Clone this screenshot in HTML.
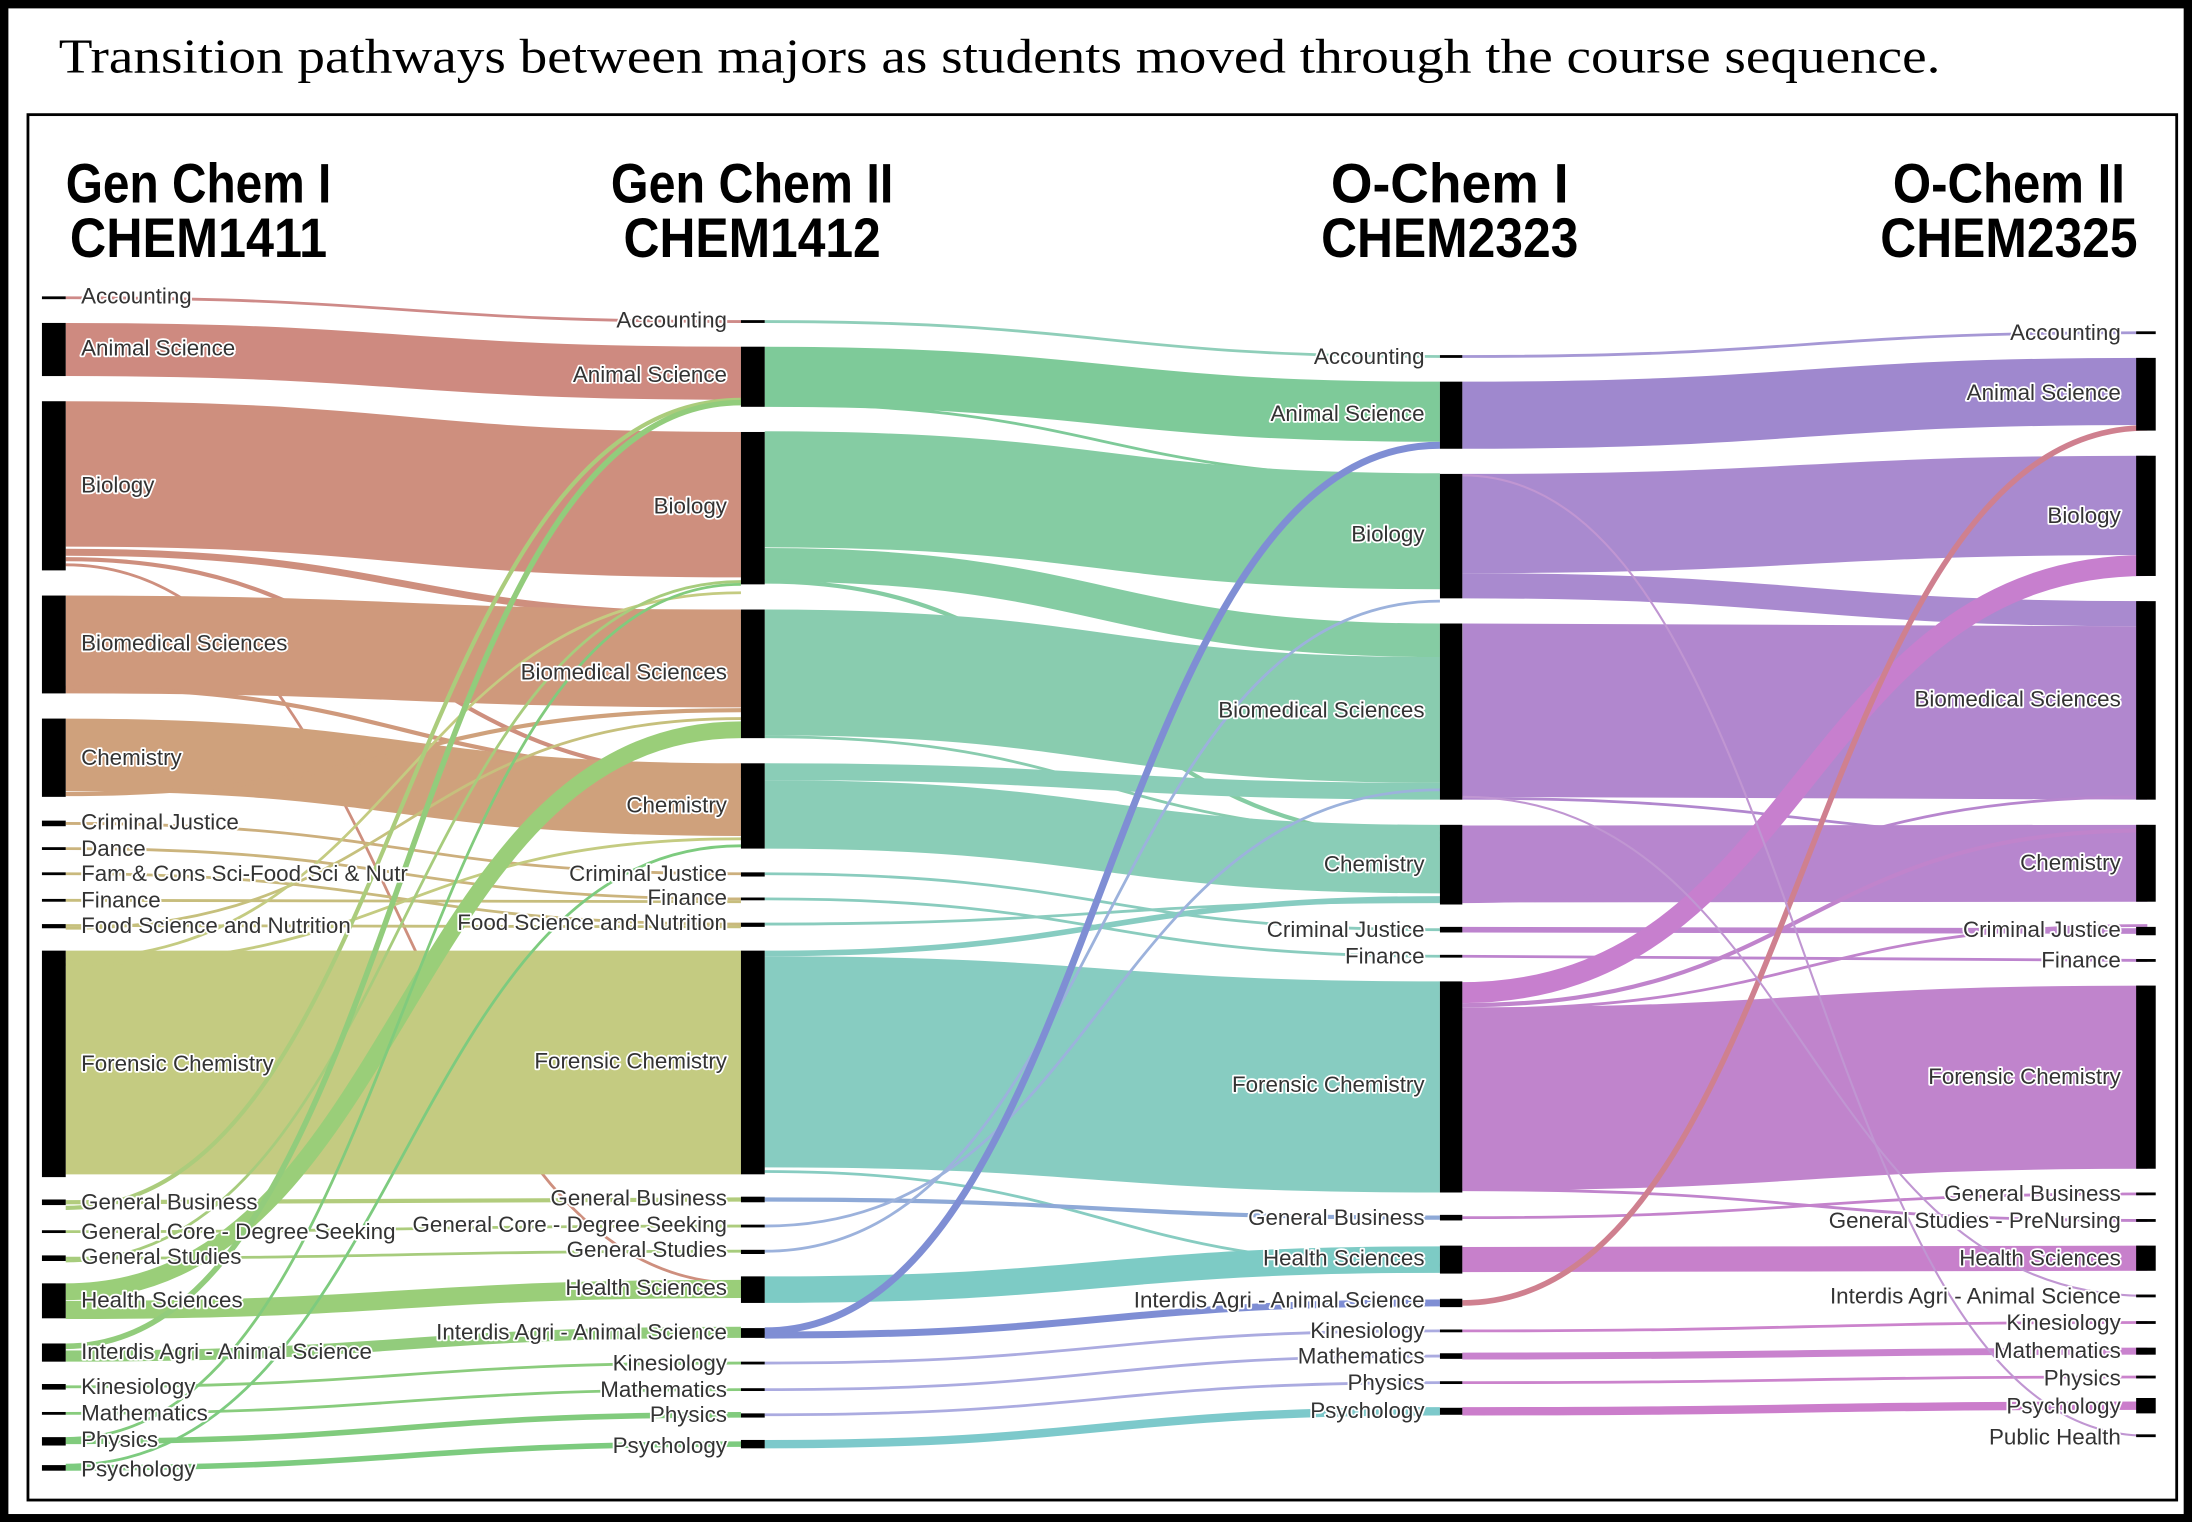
<!DOCTYPE html>
<html><head><meta charset="utf-8"><style>
html,body{margin:0;padding:0;background:#fff}
svg{display:block}
.l{font-family:"Liberation Sans",Arial,sans-serif;font-size:16px;fill:#333;stroke:#fff;stroke-width:2.5px;paint-order:stroke;stroke-linejoin:round;dominant-baseline:middle}
.r{text-anchor:end}
.h{font-family:"Liberation Sans",Arial,sans-serif;font-weight:bold;font-size:40px;fill:#000;text-anchor:middle}
path{fill:none}
</style></head><body>
<svg width="2192" height="1522" viewBox="0 0 2192 1522" xmlns="http://www.w3.org/2000/svg">
<g transform="scale(1.398)">
<rect x="3" y="3" width="1562" height="1083" fill="#fff" stroke="#000" stroke-width="6"/>
<text x="42" y="52" font-family="Liberation Serif, serif" font-size="35" textLength="1346" lengthAdjust="spacingAndGlyphs">Transition pathways between majors as students moved through the course sequence.</text>
<rect x="20" y="82" width="1537" height="991" fill="none" stroke="#000" stroke-width="2"/>

<text class="h" x="142" y="145" textLength="190" lengthAdjust="spacingAndGlyphs">Gen Chem I</text>
<text class="h" x="142" y="184" textLength="184" lengthAdjust="spacingAndGlyphs">CHEM1411</text>
<text class="h" x="538" y="145" textLength="202" lengthAdjust="spacingAndGlyphs">Gen Chem II</text>
<text class="h" x="538" y="184" textLength="184" lengthAdjust="spacingAndGlyphs">CHEM1412</text>
<text class="h" x="1037" y="145" textLength="170" lengthAdjust="spacingAndGlyphs">O-Chem I</text>
<text class="h" x="1037" y="184" textLength="184" lengthAdjust="spacingAndGlyphs">CHEM2323</text>
<text class="h" x="1437" y="145" textLength="166" lengthAdjust="spacingAndGlyphs">O-Chem II</text>
<text class="h" x="1437" y="184" textLength="184" lengthAdjust="spacingAndGlyphs">CHEM2325</text>

<g opacity="0.88">
<path d="M47,213 C288,213 288,230 530,230" stroke="#c87a78" stroke-width="2"/>
<path d="M47,250 C288,250 288,267 530,267" stroke="#c87a6f" stroke-width="38"/>
<path d="M47,339 C288,339 288,361 530,361" stroke="#c8806d" stroke-width="104"/>
<path d="M47,395 C288,395 288,440 530,440" stroke="#c8806d" stroke-width="5"/>
<path d="M47,400 C288,400 288,555 530,555" stroke="#c8806d" stroke-width="3"/>
<path d="M47,404 C288,404 288,918 530,918" stroke="#c8806d" stroke-width="2"/>
<path d="M47,461 C288,461 288,471 530,471" stroke="#c98b6b" stroke-width="70"/>
<path d="M47,492 C288,492 288,552 530,552" stroke="#c98b6b" stroke-width="3"/>
<path d="M47,540 C288,540 288,572 530,572" stroke="#c9956a" stroke-width="52"/>
<path d="M47,568 C288,568 288,508 530,508" stroke="#c9956a" stroke-width="3"/>
<path d="M47,589 C288,589 288,625 530,625" stroke="#c6a46c" stroke-width="2"/>
<path d="M47,607 C288,607 288,643 530,643" stroke="#c4aa6c" stroke-width="2"/>
<path d="M47,625 C288,625 288,661 530,661" stroke="#c2b06c" stroke-width="2"/>
<path d="M47,644 C288,644 288,645 530,645" stroke="#c0b46c" stroke-width="2"/>
<path d="M47,662 C288,662 288,663 530,663" stroke="#bfb86c" stroke-width="2"/>
<path d="M47,664 C288,664 288,514 530,514" stroke="#bfb86c" stroke-width="2"/>
<path d="M47,760 C288,760 288,760 530,760" stroke="#bdc470" stroke-width="160"/>
<path d="M47,686 C288,686 288,424 530,424" stroke="#bdc470" stroke-width="2"/>
<path d="M47,690 C288,690 288,600 530,600" stroke="#bdc470" stroke-width="2"/>
<path d="M47,860 C288,860 288,858 530,858" stroke="#a8c66c" stroke-width="3"/>
<path d="M47,864 C288,864 288,286 530,286" stroke="#a0c66a" stroke-width="3"/>
<path d="M47,881 C288,881 288,877 530,877" stroke="#a2c66c" stroke-width="2"/>
<path d="M47,900 C288,900 288,895 530,895" stroke="#9cc66c" stroke-width="2"/>
<path d="M47,902 C288,902 288,416 530,416" stroke="#9cc66c" stroke-width="2"/>
<path d="M47,924 C288,924 288,522 530,522" stroke="#8dc867" stroke-width="12"/>
<path d="M47,937 C288,937 288,922 530,922" stroke="#8dc867" stroke-width="13"/>
<path d="M47,963 C288,963 288,288 530,288" stroke="#84c66a" stroke-width="4"/>
<path d="M47,970 C288,970 288,953 530,953" stroke="#84c66a" stroke-width="8"/>
<path d="M47,992 C288,992 288,975 530,975" stroke="#7cc66c" stroke-width="2"/>
<path d="M47,1011 C288,1011 288,994 530,994" stroke="#78c66c" stroke-width="2"/>
<path d="M47,1031 C288,1031 288,1012 530,1012" stroke="#70c46c" stroke-width="4"/>
<path d="M47,1029 C288,1029 288,418 530,418" stroke="#70c46c" stroke-width="2"/>
<path d="M47,1050 C288,1050 288,1033 530,1033" stroke="#6cc46e" stroke-width="4"/>
<path d="M47,1048 C288,1048 288,605 530,605" stroke="#6cc46e" stroke-width="2"/>
<path d="M547,230 C788,230 788,255 1030,255" stroke="#80c8b0" stroke-width="2"/>
<path d="M547,269.5 C788,269.5 788,294.5 1030,294.5" stroke="#6dc38c" stroke-width="43"/>
<path d="M547,289 C788,289 788,342 1030,342" stroke="#6dc38c" stroke-width="2"/>
<path d="M547,350 C788,350 788,380 1030,380" stroke="#75c697" stroke-width="83"/>
<path d="M547,404 C788,404 788,458 1030,458" stroke="#75c697" stroke-width="24"/>
<path d="M547,416 C788,416 788,600 1030,600" stroke="#75c697" stroke-width="3"/>
<path d="M547,481 C788,481 788,515 1030,515" stroke="#79c6a5" stroke-width="90"/>
<path d="M547,527 C788,527 788,596 1030,596" stroke="#79c6a5" stroke-width="2"/>
<path d="M547,552 C788,552 788,566 1030,566" stroke="#7ac7ae" stroke-width="12"/>
<path d="M547,582.5 C788,582.5 788,614.5 1030,614.5" stroke="#7ac7ae" stroke-width="49"/>
<path d="M547,625 C788,625 788,665 1030,665" stroke="#7ac6b6" stroke-width="2"/>
<path d="M547,643 C788,643 788,684 1030,684" stroke="#7ac6b6" stroke-width="2"/>
<path d="M547,661 C788,661 788,645 1030,645" stroke="#7ac6b6" stroke-width="2"/>
<path d="M547,682 C788,682 788,643 1030,643" stroke="#77c5b9" stroke-width="4"/>
<path d="M547,759.5 C788,759.5 788,777.5 1030,777.5" stroke="#77c5b9" stroke-width="151"/>
<path d="M547,838 C788,838 788,905 1030,905" stroke="#77c5b9" stroke-width="2"/>
<path d="M547,858 C788,858 788,871 1030,871" stroke="#7f9ed2" stroke-width="3"/>
<path d="M547,877 C788,877 788,565 1030,565" stroke="#8fa8d8" stroke-width="2"/>
<path d="M547,895 C788,895 788,430 1030,430" stroke="#8fa8d8" stroke-width="2"/>
<path d="M547,922.5 C788,922.5 788,901 1030,901" stroke="#6cc4be" stroke-width="19"/>
<path d="M547,952 C788,952 788,318.5 1030,318.5" stroke="#6e7fcf" stroke-width="5"/>
<path d="M547,955 C788,955 788,932 1030,932" stroke="#6e7fcf" stroke-width="5"/>
<path d="M547,975 C788,975 788,952 1030,952" stroke="#a0a0dc" stroke-width="2"/>
<path d="M547,994 C788,994 788,970 1030,970" stroke="#a0a0dc" stroke-width="2"/>
<path d="M547,1012 C788,1012 788,989 1030,989" stroke="#a0a0dc" stroke-width="2"/>
<path d="M547,1033 C788,1033 788,1009.5 1030,1009.5" stroke="#6cc2c4" stroke-width="6"/>
<path d="M1046,255 C1291,255 1291,238 1528,238" stroke="#9a8ad0" stroke-width="2"/>
<path d="M1046,297 C1291,297 1291,280 1536,280" stroke="#9278c8" stroke-width="48"/>
<path d="M1046,374.5 C1291,374.5 1291,361.5 1536,361.5" stroke="#9e7ac9" stroke-width="71"/>
<path d="M1046,419 C1291,419 1291,439 1536,439" stroke="#9e7ac9" stroke-width="18"/>
<path d="M1046,508 C1291,508 1291,510 1536,510" stroke="#a777c8" stroke-width="124"/>
<path d="M1046,571 C1291,571 1291,600 1536,600" stroke="#a777c8" stroke-width="2"/>
<path d="M1046,618 C1291,618 1291,617.5 1536,617.5" stroke="#ae76c8" stroke-width="55"/>
<path d="M1046,645 C1291,645 1291,570 1536,570" stroke="#ae76c8" stroke-width="2"/>
<path d="M1046,665 C1291,665 1291,666 1536,666" stroke="#b474c8" stroke-width="4"/>
<path d="M1046,684 C1291,684 1291,687 1536,687" stroke="#b474c8" stroke-width="2"/>
<path d="M1046,710 C1291,710 1291,404.5 1536,404.5" stroke="#c06ec8" stroke-width="15"/>
<path d="M1046,719 C1291,719 1291,594 1536,594" stroke="#b874c6" stroke-width="3"/>
<path d="M1046,722 C1291,722 1291,662 1536,662" stroke="#b874c6" stroke-width="2"/>
<path d="M1046,786 C1291,786 1291,770.5 1536,770.5" stroke="#b874c6" stroke-width="131"/>
<path d="M1046,851 C1291,851 1291,873 1536,873" stroke="#b874c6" stroke-width="2"/>
<path d="M1046,871 C1291,871 1291,854 1536,854" stroke="#bc72c6" stroke-width="2"/>
<path d="M1046,901 C1291,901 1291,900 1536,900" stroke="#c06fc4" stroke-width="18"/>
<path d="M1046,932 C1291,932 1291,306 1536,306" stroke="#c96f80" stroke-width="4"/>
<path d="M1046,952 C1291,952 1291,946 1536,946" stroke="#c472c6" stroke-width="2"/>
<path d="M1046,970 C1291,970 1291,966.5 1536,966.5" stroke="#c272c8" stroke-width="5"/>
<path d="M1046,989 C1291,989 1291,985 1536,985" stroke="#c472c6" stroke-width="2"/>
<path d="M1046,1009.5 C1291,1009.5 1291,1005.5 1536,1005.5" stroke="#c46cc4" stroke-width="6"/>
<path d="M1046,340 C1291,340 1291,1027 1536,1027" stroke="#b888cc" stroke-width="1.5"/>
<path d="M1046,570 C1291,570 1291,927 1536,927" stroke="#b888cc" stroke-width="1.5"/>
</g>

<g fill="#000">
<rect x="30" y="212" width="17" height="2"/><rect x="30" y="231" width="17" height="38"/><rect x="30" y="287" width="17" height="121"/>
<rect x="30" y="426" width="17" height="70"/><rect x="30" y="514" width="17" height="56"/><rect x="30" y="587" width="17" height="4"/>
<rect x="30" y="606" width="17" height="2"/><rect x="30" y="624" width="17" height="2"/><rect x="30" y="643" width="17" height="2"/>
<rect x="30" y="661" width="17" height="3"/><rect x="30" y="680" width="17" height="162"/><rect x="30" y="858" width="17" height="4"/>
<rect x="30" y="880" width="17" height="2"/><rect x="30" y="898" width="17" height="4"/><rect x="30" y="918" width="17" height="25"/>
<rect x="30" y="961" width="17" height="13"/><rect x="30" y="990" width="17" height="4"/><rect x="30" y="1010" width="17" height="2"/>
<rect x="30" y="1028" width="17" height="6"/><rect x="30" y="1048" width="17" height="4"/>
<rect x="530" y="229" width="17" height="2"/><rect x="530" y="248" width="17" height="43"/><rect x="530" y="309" width="17" height="109"/>
<rect x="530" y="436" width="17" height="92"/><rect x="530" y="546" width="17" height="61"/><rect x="530" y="624" width="17" height="3"/>
<rect x="530" y="642" width="17" height="2"/><rect x="530" y="660" width="17" height="3"/><rect x="530" y="680" width="17" height="160"/>
<rect x="530" y="856" width="17" height="4"/><rect x="530" y="876" width="17" height="2"/><rect x="530" y="894" width="17" height="3"/>
<rect x="530" y="913" width="17" height="19"/><rect x="530" y="950" width="17" height="7"/><rect x="530" y="974" width="17" height="2"/>
<rect x="530" y="993" width="17" height="2"/><rect x="530" y="1011" width="17" height="3"/><rect x="530" y="1030" width="17" height="6"/>
<rect x="1030" y="254" width="16" height="2"/><rect x="1030" y="273" width="16" height="48"/><rect x="1030" y="339" width="16" height="89"/>
<rect x="1030" y="446" width="16" height="126"/><rect x="1030" y="590" width="16" height="57"/><rect x="1030" y="663" width="16" height="4"/>
<rect x="1030" y="683" width="16" height="2"/><rect x="1030" y="702" width="16" height="151"/><rect x="1030" y="869" width="16" height="4"/>
<rect x="1030" y="891" width="16" height="20"/><rect x="1030" y="929" width="16" height="6"/><rect x="1030" y="951" width="16" height="2"/>
<rect x="1030" y="968" width="16" height="4"/><rect x="1030" y="988" width="16" height="2"/><rect x="1030" y="1007" width="16" height="5"/>
<rect x="1528" y="237" width="14" height="2"/><rect x="1528" y="256" width="14" height="52"/><rect x="1528" y="326" width="14" height="86"/>
<rect x="1528" y="430" width="14" height="142"/><rect x="1528" y="590" width="14" height="55"/><rect x="1528" y="663" width="14" height="6"/>
<rect x="1528" y="686" width="14" height="2"/><rect x="1528" y="705" width="14" height="131"/><rect x="1528" y="853" width="14" height="2"/>
<rect x="1528" y="872" width="14" height="2"/><rect x="1528" y="891" width="14" height="18"/><rect x="1528" y="926" width="14" height="2"/>
<rect x="1528" y="945" width="14" height="2"/><rect x="1528" y="964" width="14" height="5"/><rect x="1528" y="984" width="14" height="2"/>
<rect x="1528" y="1000" width="14" height="11"/><rect x="1528" y="1026" width="14" height="2"/>
</g>

<g class="l">
<text x="58" y="213">Accounting</text><text x="58" y="250">Animal Science</text><text x="58" y="348">Biology</text>
<text x="58" y="461">Biomedical Sciences</text><text x="58" y="543">Chemistry</text><text x="58" y="589">Criminal Justice</text>
<text x="58" y="608">Dance</text><text x="58" y="626">Fam &amp; Cons Sci-Food Sci &amp; Nutr</text><text x="58" y="645">Finance</text>
<text x="58" y="663">Food Science and Nutrition</text><text x="58" y="762">Forensic Chemistry</text><text x="58" y="861">General Business</text>
<text x="58" y="882">General Core - Degree Seeking</text><text x="58" y="900">General Studies</text><text x="58" y="931">Health Sciences</text>
<text x="58" y="968">Interdis Agri - Animal Science</text><text x="58" y="993">Kinesiology</text><text x="58" y="1012">Mathematics</text>
<text x="58" y="1031">Physics</text><text x="58" y="1052">Psychology</text>
</g>
<g class="l r">
<text x="520" y="230">Accounting</text><text x="520" y="269">Animal Science</text><text x="520" y="363">Biology</text>
<text x="520" y="482">Biomedical Sciences</text><text x="520" y="577">Chemistry</text><text x="520" y="626">Criminal Justice</text>
<text x="520" y="643">Finance</text><text x="520" y="661">Food Science and Nutrition</text><text x="520" y="760">Forensic Chemistry</text>
<text x="520" y="858">General Business</text><text x="520" y="877">General Core - Degree Seeking</text><text x="520" y="895">General Studies</text>
<text x="520" y="922">Health Sciences</text><text x="520" y="954">Interdis Agri - Animal Science</text><text x="520" y="976">Kinesiology</text>
<text x="520" y="995">Mathematics</text><text x="520" y="1013">Physics</text><text x="520" y="1035">Psychology</text>

<text x="1019" y="256">Accounting</text><text x="1019" y="297">Animal Science</text><text x="1019" y="383">Biology</text>
<text x="1019" y="509">Biomedical Sciences</text><text x="1019" y="619">Chemistry</text><text x="1019" y="666">Criminal Justice</text>
<text x="1019" y="685">Finance</text><text x="1019" y="777">Forensic Chemistry</text><text x="1019" y="872">General Business</text>
<text x="1019" y="901">Health Sciences</text><text x="1019" y="931">Interdis Agri - Animal Science</text><text x="1019" y="953">Kinesiology</text>
<text x="1019" y="971">Mathematics</text><text x="1019" y="990">Physics</text><text x="1019" y="1010">Psychology</text>

<text x="1517" y="239">Accounting</text><text x="1517" y="282">Animal Science</text><text x="1517" y="370">Biology</text>
<text x="1517" y="501">Biomedical Sciences</text><text x="1517" y="618">Chemistry</text><text x="1517" y="666">Criminal Justice</text>
<text x="1517" y="688">Finance</text><text x="1517" y="771">Forensic Chemistry</text><text x="1517" y="855">General Business</text>
<text x="1517" y="874">General Studies - PreNursing</text><text x="1517" y="901">Health Sciences</text><text x="1517" y="928">Interdis Agri - Animal Science</text>
<text x="1517" y="947">Kinesiology</text><text x="1517" y="967">Mathematics</text><text x="1517" y="987">Physics</text>
<text x="1517" y="1007">Psychology</text><text x="1517" y="1029">Public Health</text>
</g>
</g>
</svg>
</body></html>
